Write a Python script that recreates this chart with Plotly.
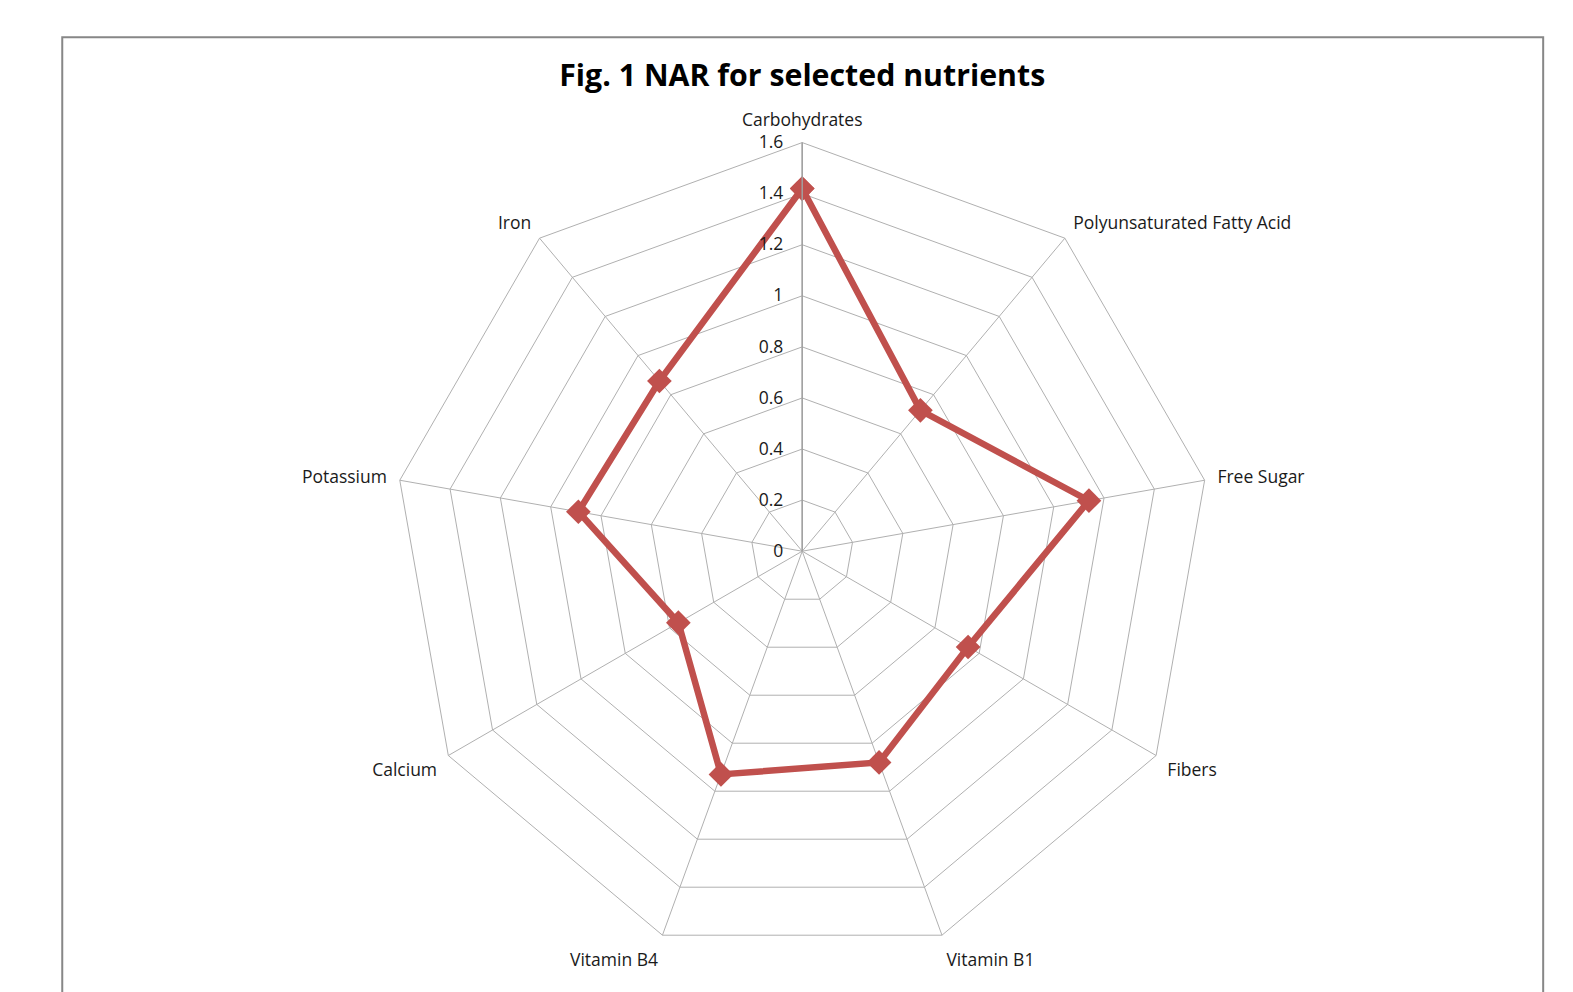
import plotly.graph_objects as go

categories = ["Carbohydrates", "Polyunsaturated Fatty Acid", "Free Sugar", "Fibers",
              "Vitamin B1", "Vitamin B4", "Calcium", "Potassium", "Iron"]
nar_values = [1.42, 0.72, 1.14, 0.75, 0.88, 0.93, 0.56, 0.89, 0.87]
radial_ticks = [0, 0.2, 0.4, 0.6, 0.8, 1, 1.2, 1.4, 1.6]
radial_ticktext = ["0", "0.2", "0.4", "0.6", "0.8", "1", "1.2", "1.4", "1.6"]

# page has an 8px body margin; work in figure coords = screen coords - 8
OFF = 8
S = 0.996
W, H = 1573 - 2 * OFF, 992 - OFF
cx, cy, R = 799 / S - OFF, 549 / S - OFF, 407 / S

fig = go.Figure()
fig.add_trace(go.Scatterpolar(
    r=nar_values + nar_values[:1],
    theta=categories + categories[:1],
    mode="lines+markers",
    line=dict(color="#C0504D", width=6.5),
    marker=dict(symbol="diamond", size=19, color="#C0504D"),
    showlegend=False,
    cliponaxis=False,
))

fig.update_layout(
    width=W, height=H,
    margin=dict(l=0, r=0, t=0, b=0),
    paper_bgcolor="white",
    font=dict(family="Open Sans, Noto Sans, sans-serif", size=17.5, color="#1a1a1a"),
    title=dict(text="<b>Fig. 1 NAR for selected nutrients</b>",
               x=cx / W, xanchor="center", y=1 - (75 / S - OFF) / H, yanchor="middle",
               font=dict(size=30.3, color="#000000")),
    polar=dict(
        domain=dict(x=[(cx - R) / W, (cx + R) / W], y=[1 - (cy + R) / H, 1 - (cy - R) / H]),
        gridshape="linear",
        bgcolor="white",
        radialaxis=dict(range=[0, 1.6], tickvals=radial_ticks, ticktext=radial_ticktext,
                        angle=90, side="counterclockwise", tickangle=90, showline=True,
                        linecolor="#A0A0A0", linewidth=1.5, gridcolor="#B0B0B0", gridwidth=1,
                        ticks="outside", ticklen=12, tickcolor="rgba(0,0,0,0)",
                        tickfont=dict(size=17.5, color="#1a1a1a")),
        angularaxis=dict(rotation=90, direction="clockwise", showline=True,
                         linecolor="#B0B0B0", linewidth=1, gridcolor="#B0B0B0", gridwidth=1,
                         ticks="outside", ticklen=9, tickcolor="rgba(0,0,0,0)",
                         tickfont=dict(size=17.5, color="#1a1a1a")),
    ),
    shapes=[dict(type="rect", xref="paper", yref="paper",
                 x0=(62 / S - OFF) / W, x1=(1537 / S - OFF) / W, y0=-0.05,
                 y1=1 - (37 / S - OFF) / H,
                 line=dict(color="#878787", width=2))],
)

fig.write_html("out.html")
